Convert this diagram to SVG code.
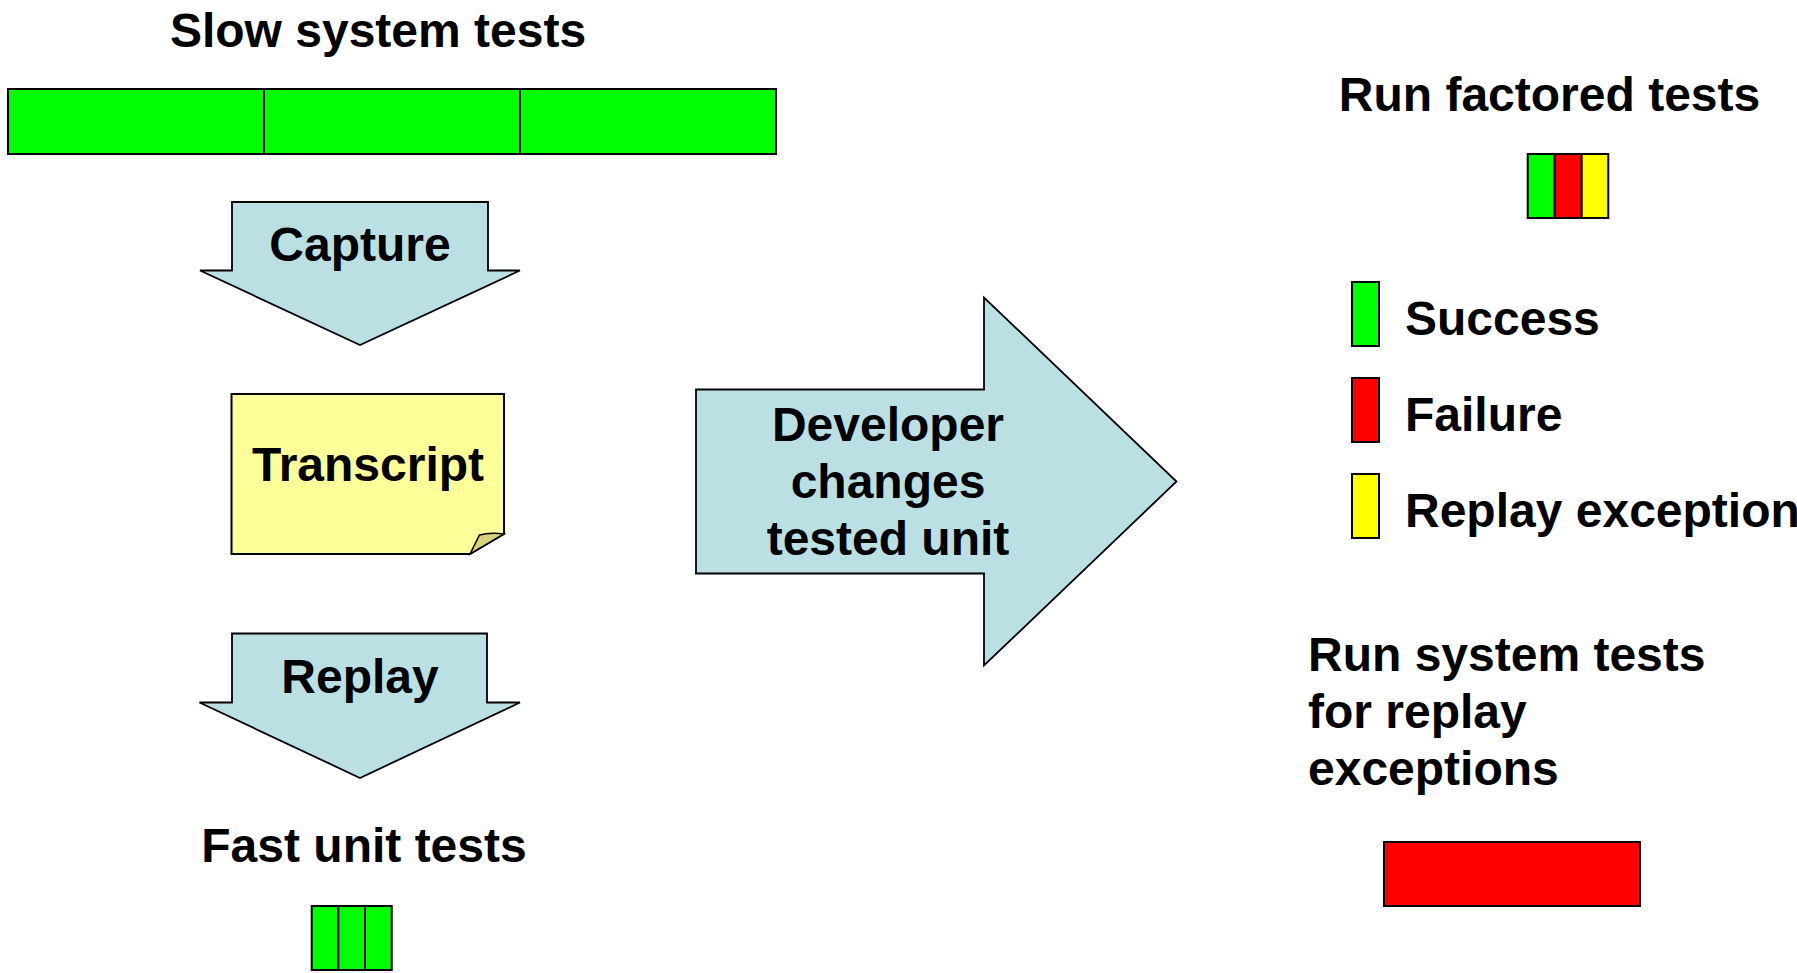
<svg xmlns="http://www.w3.org/2000/svg" width="1797" height="973" viewBox="0 0 1797 973">
  <style>
    text { font-family: "Liberation Sans", Arial, sans-serif; font-weight: bold; font-size: 48px; fill: #000; }
    .mid { text-anchor: middle; }
    .cell { stroke: #000; stroke-width: 2; }
    .g { fill: #00ff00; }
    .r { fill: #ff0000; }
    .y { fill: #ffff00; }
    .arrow { fill: #bbe0e3; stroke: #000; stroke-width: 1.8; stroke-linejoin: miter; }
    .note { fill: #ffff99; stroke: #000; stroke-width: 2; stroke-linejoin: miter; }
    .flap { fill: #d9d37a; stroke: #000; stroke-width: 1.5; }
  </style>
  <rect width="1797" height="973" fill="#ffffff"/>

  <!-- Slow system tests -->
  <g id="slow-tests">
    <text class="mid" x="378" y="47">Slow system tests</text>
    <rect class="cell g" x="8" y="89" width="256" height="65"/>
    <rect class="cell g" x="264" y="89" width="256" height="65"/>
    <rect class="cell g" x="520" y="89" width="256" height="65"/>
  </g>

  <g id="connectors">
    <!-- Capture arrow -->
    <g id="capture">
      <path class="arrow" d="M232,202 H488 V270.5 H520 L360,345 L200,270.5 H232 Z"/>
      <text class="mid" x="360" y="261">Capture</text>
    </g>
    <!-- Replay arrow -->
    <g id="replay">
      <path class="arrow" d="M232,633.5 H487 V702.5 H520 L360,778 L199.5,702.5 H232 Z"/>
      <text class="mid" x="360" y="693">Replay</text>
    </g>
    <!-- Developer changes arrow -->
    <g id="developer-changes">
      <path class="arrow" d="M696,389.5 H984 V297.5 L1176.5,481.5 L984,665.5 V573.5 H696 Z"/>
      <text class="mid" x="888" y="441">Developer</text>
      <text class="mid" x="888" y="498">changes</text>
      <text class="mid" x="888" y="555">tested unit</text>
    </g>
  </g>

  <!-- Transcript note with curled corner -->
  <g id="transcript">
    <path class="note" d="M231.5,394 H504 V534 L470,554 H231.5 Z"/>
    <path class="flap" d="M470,554 L479.5,535 Q490,532 504,534 Z"/>
    <text class="mid" x="368" y="481">Transcript</text>
  </g>

  <!-- Fast unit tests -->
  <g id="fast-tests">
    <text class="mid" x="364" y="862">Fast unit tests</text>
    <rect class="cell g" x="311.7" y="906" width="26.6" height="64"/>
    <rect class="cell g" x="338.3" y="906" width="26.7" height="64"/>
    <rect class="cell g" x="365" y="906" width="26.7" height="64"/>
  </g>

  <!-- Run factored tests -->
  <g id="factored-tests">
    <text class="mid" x="1549.5" y="111">Run factored tests</text>
    <rect class="cell g" x="1527.7" y="154" width="27" height="64"/>
    <rect class="cell r" x="1554.7" y="154" width="27" height="64"/>
    <rect class="cell y" x="1581.7" y="154" width="26.6" height="64"/>
  </g>

  <!-- Legend -->
  <g id="legend-success">
    <rect class="cell g" x="1352" y="282" width="27" height="64"/>
    <text x="1405" y="335">Success</text>
  </g>
  <g id="legend-failure">
    <rect class="cell r" x="1352" y="378" width="27" height="64"/>
    <text x="1405" y="431">Failure</text>
  </g>
  <g id="legend-replay-exception">
    <rect class="cell y" x="1352" y="474" width="27" height="64"/>
    <text x="1405" y="527">Replay exception</text>
  </g>

  <!-- Run system tests for replay exceptions -->
  <g id="rerun-system-tests">
    <text x="1308" y="671">Run system tests</text>
    <text x="1308" y="728">for replay</text>
    <text x="1308" y="785">exceptions</text>
    <rect class="cell r" x="1384" y="842" width="256" height="64"/>
  </g>
</svg>
